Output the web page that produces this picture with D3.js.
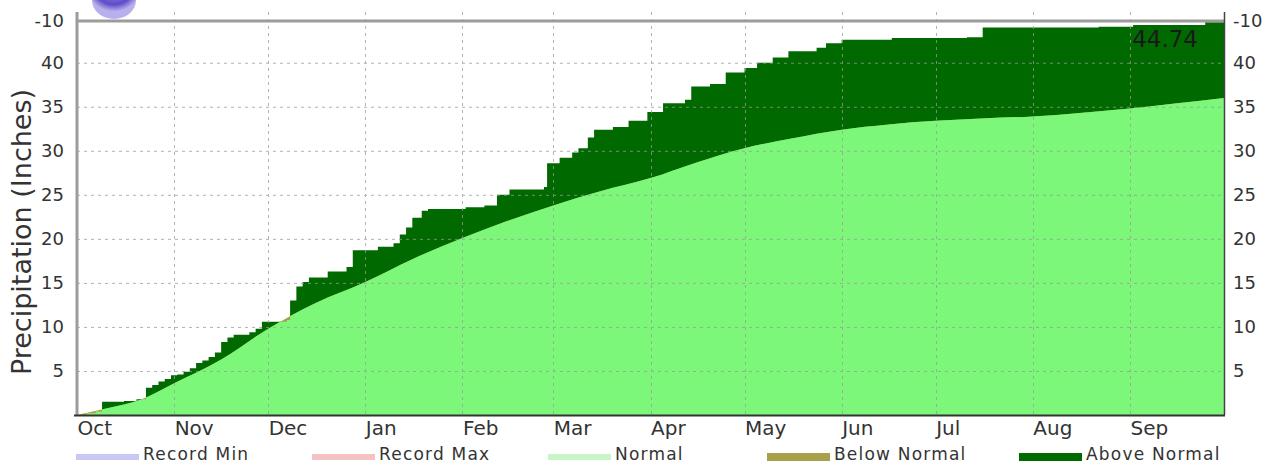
<!DOCTYPE html>
<html><head><meta charset="utf-8">
<script src="https://cdn.jsdelivr.net/npm/d3@7/dist/d3.min.js"></script>
<style>body{margin:0;background:#fff}svg{display:block}text{font-family:"DejaVu Sans",Verdana,sans-serif;fill:#333}</style>
</head><body><svg id="c" width="1266" height="464"></svg>
<script>
// ---- data ----
const seasonStart = new Date(2015, 9, 1);
const seasonEnd = new Date(2016, 9, 1);
// observed cumulative precipitation (day offset from Oct 1, inches)
const obsDay = [0,3,6,8,15,19,22,24,26,28,30,32,34,36,38,40,42,44,46,48,50,55,57,59,67,68,70,72,74,80,86,88,96,101,103,105,107,110,112,124,130,134,138,149,150,154,158,160,163,165,171,176,182,187,194,196,202,207,213,217,222,227,236,239,244,260,284,289,326,337,360,366];
const obsVal = [0,0.2,0.4,1.5,1.6,1.8,3.1,3.4,3.8,4.1,4.5,4.6,4.9,5.3,5.9,6.2,6.6,7.1,8.3,8.8,9.1,9.4,9.8,10.6,10.8,13.0,14.6,15.1,15.6,16.3,16.8,18.7,19.1,19.5,20.5,21.3,22.4,23.2,23.4,23.6,23.8,25.0,25.6,25.9,28.6,29.2,29.8,30.3,31.5,32.4,32.7,33.4,34.4,35.4,35.8,37.3,37.6,38.9,39.4,40.0,40.6,41.3,41.7,42.2,42.6,42.8,42.9,44.0,44.1,44.3,44.6,44.74];
// normal cumulative precipitation
const normDay = [0,10,20,31,46,61,76,92,107,123,137,152,167,183,197,213,228,244,259,274,290,305,320,336,351,366];
const normVal = [0,0.8,1.7,3.6,6.3,9.8,12.7,15.1,17.7,20.1,22.0,23.8,25.4,26.9,28.6,30.3,31.4,32.4,33.0,33.4,33.7,33.9,34.3,34.8,35.4,36.0];
const yTickValues = [5,10,15,20,25,30,35,40];
const yTopLabel = "-10";
const monthLabels = ["Oct","Nov","Dec","Jan","Feb","Mar","Apr","May","Jun","Jul","Aug","Sep"];
const legendLabels = ["Record Min","Record Max","Normal","Below Normal","Above Normal"];
const legendColors = ["#c8c8f2","#f4c2c2","#c8f4c8","#a9a04c","#006a00"];
const yLabel = "Precipitation (Inches)";

// ---- layout ----
const X0 = 77, X1 = 1224, Y0 = 21, Y1 = 415;
const C_LIGHT = "#7cf77a", C_DARK = "#006a00", C_BELOW = "#a9a04c";
const svg = d3.select("#c");
const yMax = obsVal[obsVal.length-1];
const x = d3.scaleTime().domain([seasonStart, seasonEnd]).range([X0, X1]);
const y = d3.scaleLinear().domain([0, yMax]).range([Y1, Y0]);
const dt = d => d3.timeDay.offset(seasonStart, d);

const obs = obsDay.map((d,i)=>({d:dt(d), v:obsVal[i]}));
const norm = normDay.map((d,i)=>({d:dt(d), v:normVal[i]}));

const defs = svg.append("defs");
defs.append("clipPath").attr("id","plot").append("rect").attr("x",X0).attr("y",Y0).attr("width",X1-X0).attr("height",Y1-Y0);
const normArea = d3.area().x(p=>x(p.d)).y0(y(0)).y1(p=>y(p.v)).curve(d3.curveMonotoneX);
const obsArea = d3.area().x(p=>x(p.d)).y0(y(0)).y1(p=>y(p.v)).curve(d3.curveStepAfter);
defs.append("clipPath").attr("id","undernorm").append("path").attr("d", normArea(norm));
const grad = defs.append("radialGradient").attr("id","blob").attr("cx","50%").attr("cy","20%").attr("r","60%");
grad.append("stop").attr("offset","0%").attr("stop-color","#9a8cf0");
grad.append("stop").attr("offset","70%").attr("stop-color","#5e4cc8");
grad.append("stop").attr("offset","100%").attr("stop-color","#b8b0ec");

const g = svg.append("g").attr("clip-path","url(#plot)");
g.append("path").attr("d", obsArea(obs)).attr("fill", C_DARK);
g.append("path").attr("d", normArea(norm)).attr("fill", C_BELOW);
g.append("g").attr("clip-path","url(#undernorm)").append("path").attr("d", obsArea(obs)).attr("fill", C_LIGHT);

// grid
const months = d3.timeMonth.range(seasonStart, seasonEnd);
const grid = svg.append("g").attr("stroke","#9a9a9a").attr("stroke-width",1).attr("stroke-dasharray","3,4").attr("opacity",0.75);
grid.selectAll(".h").data(yTickValues).join("line").attr("x1",X0).attr("x2",X1).attr("y1",d=>y(d)+0.5).attr("y2",d=>y(d)+0.5);
grid.selectAll(".v").data(months.slice(1)).join("line").attr("y1",12).attr("y2",Y1).attr("x1",d=>Math.round(x(d))+0.5).attr("x2",d=>Math.round(x(d))+0.5);

// frame
svg.append("line").attr("x1",X0).attr("x2",X1).attr("y1",y(yMax)).attr("y2",y(yMax)).attr("stroke","#9c9c9c").attr("stroke-width",3);
svg.append("line").attr("x1",X0).attr("x2",X0).attr("y1",12).attr("y2",Y1).attr("stroke","#9c9c9c").attr("stroke-width",3);
svg.append("line").attr("x1",X1+0.5).attr("x2",X1+0.5).attr("y1",12).attr("y2",Y1).attr("stroke","#444").attr("stroke-width",1.5);
svg.append("line").attr("x1",74).attr("x2",X1+1).attr("y1",Y1+0.5).attr("y2",Y1+0.5).attr("stroke","#333").attr("stroke-width",2);

// blob
svg.append("ellipse").attr("cx",114).attr("cy",0).attr("rx",22).attr("ry",19).attr("fill","url(#blob)");

// y axes
const tv = yTickValues.concat([yMax]);
const fmt = d => d === yMax ? yTopLabel : String(d);
const axL = svg.append("g").attr("transform",`translate(${X0-13},0)`).call(d3.axisLeft(y).tickValues(tv).tickFormat(fmt).tickSize(0).tickPadding(0));
const axR = svg.append("g").attr("transform",`translate(${X1+9},0)`).call(d3.axisRight(y).tickValues(tv).tickFormat(fmt).tickSize(0).tickPadding(0));
[axL, axR].forEach(a => { a.select(".domain").remove(); a.selectAll("text").attr("font-size",18).attr("font-family","DejaVu Sans").attr("fill","#333"); });

// x axis month labels
const axX = svg.append("g").attr("transform",`translate(0,${Y1})`).call(d3.axisBottom(x).tickValues(months).tickFormat((d,i)=>monthLabels[i]).tickSize(0).tickPadding(0));
axX.select(".domain").remove();
axX.selectAll("text").attr("text-anchor","start").attr("dy",null).attr("y",20).attr("font-size",20).attr("font-family","DejaVu Sans").attr("fill","#333");

// y label
svg.append("text").attr("transform","translate(31,232) rotate(-90)").attr("text-anchor","middle").attr("font-size",27).text(yLabel);

// total label
svg.append("text").attr("x",1198).attr("y",47).attr("text-anchor","end").attr("font-size",23).style("fill","#1a1a1a").text(d3.format(".2f")(yMax));

// legend
const legX = [76, 312, 548, 767, 1019];
const lg = svg.append("g");
legendLabels.forEach((l,i)=>{
  const h = i < 3 ? 6 : 8;
  lg.append("rect").attr("x",legX[i]).attr("y",457-h/2).attr("width",63).attr("height",h).attr("fill",legendColors[i]);
  lg.append("text").attr("x",legX[i]+67).attr("y",460).attr("font-size",17).attr("letter-spacing",1.2).text(l);
});
</script></body></html>
